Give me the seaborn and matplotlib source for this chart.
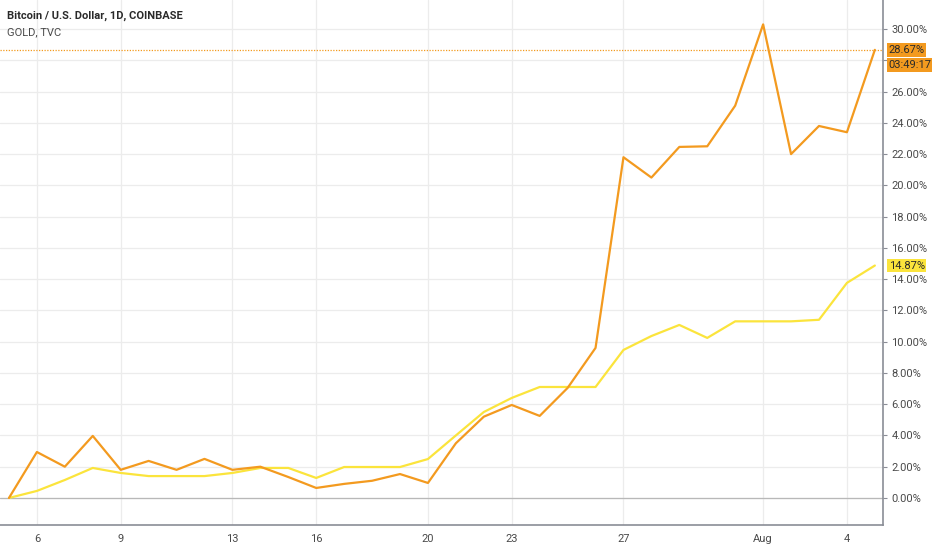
import pandas as pd
import numpy as np
import matplotlib.pyplot as plt
import seaborn as sns

# daily % change since Jul 5
dates = pd.date_range("2020-07-05", "2020-08-05", freq="D")
btc_pct = [0.0, 2.94, 2.0, 3.97, 1.8, 2.37, 1.8, 2.5, 1.8, 2.0, 1.34, 0.64,
           0.9, 1.1, 1.53, 0.96, 3.5, 5.2, 5.95, 5.25, 7.04, 9.6, 21.8, 20.5,
           22.46, 22.5, 25.1, 30.3, 22.0, 23.8, 23.4, 28.67]
gold_pct = [0.0, 0.45, 1.15, 1.92, 1.6, 1.4, 1.4, 1.4, 1.6, 1.92, 1.92, 1.28,
            1.98, 1.98, 1.98, 2.49, 4.0, 5.5, 6.4, 7.1, 7.1, 7.1, 9.47, 10.36,
            11.07, 10.24, 11.3, 11.3, 11.3, 11.4, 13.76, 14.87]
y_ticks = list(range(0, 31, 2))
x_tick_days = ["2020-07-06", "2020-07-09", "2020-07-13", "2020-07-16", "2020-07-20",
               "2020-07-23", "2020-07-27", "2020-08-01", "2020-08-04"]
x_tick_labels = ["6", "9", "13", "16", "20", "23", "27", "Aug", "4"]
countdown = "03:49:17"

BTC_COLOR = "#f39a1f"
GOLD_COLOR = "#fbe43c"
TEXT = "#4a4a4a"
AXIS = "#8a8d96"
GRID = "#ececec"

df = pd.DataFrame({"date": dates, "BTC": btc_pct, "GOLD": gold_pct})

sns.set_theme(style="white")
plt.rcParams['font.family'] = ['Roboto', 'DejaVu Sans']

fig = plt.figure(figsize=(9.32, 5.5), dpi=100)
ax = fig.add_axes([0, 25 / 550, 883 / 932, 525 / 550])

# grid
for v in y_ticks:
    ax.axhline(v, color=GRID, lw=0.9, zorder=0)
for d in x_tick_days:
    ax.axvline(pd.Timestamp(d), color=GRID, lw=0.9, zorder=0)
ax.axhline(0, color="#b8b8b8", lw=0.9, zorder=1)

sns.lineplot(data=df, x="date", y="GOLD", color=GOLD_COLOR, lw=1.6, ax=ax, zorder=3)
sns.lineplot(data=df, x="date", y="BTC", color=BTC_COLOR, lw=1.6, ax=ax, zorder=4)

# last price dotted line
ax.axhline(btc_pct[-1], color=BTC_COLOR, lw=0.9, ls=(0, (1, 1.2)), zorder=2)

ax.set_xlim(dates[0] - pd.Timedelta(hours=7.7), dates[-1] + pd.Timedelta(hours=7))
ax.set_ylim(-1.73, 31.86)

# the 28% label sits under the price/countdown boxes, so it is not shown
ax.yaxis.tick_right()
ax.set_yticks(y_ticks)
ax.set_yticklabels(["" if v == 28 else f"{v:.2f}%" for v in y_ticks])
ax.set_xticks([pd.Timestamp(d) for d in x_tick_days])
ax.set_xticklabels(x_tick_labels)
ax.tick_params(axis="both", colors=TEXT, labelsize=8, length=3, width=0.8)
ax.tick_params(axis="x", pad=3.5)
ax.tick_params(axis="y", pad=3)
ax.tick_params(axis="both", color=AXIS)
ax.set_xlabel("")
ax.set_ylabel("")

for s in ["left", "top"]:
    ax.spines[s].set_visible(False)
for s in ["right", "bottom"]:
    ax.spines[s].set_color(AXIS)
    ax.spines[s].set_linewidth(1.2)

# price labels on the right scale
bbox_kw = dict(boxstyle="square,pad=0.15", ec="none")
ax.annotate(f"{btc_pct[-1]:.2f}%", xy=(1, btc_pct[-1]), xycoords=("axes fraction", "data"),
            xytext=(4, 0), textcoords="offset points", va="center", ha="left",
            fontsize=8, color="#2a2a2a", bbox=dict(fc=BTC_COLOR, **bbox_kw), zorder=10,
            annotation_clip=False)
ax.annotate(countdown, xy=(1, btc_pct[-1]), xycoords=("axes fraction", "data"),
            xytext=(4, -11), textcoords="offset points", va="center", ha="left",
            fontsize=8, color="#2a2a2a", bbox=dict(fc=BTC_COLOR, **bbox_kw), zorder=10,
            annotation_clip=False)
ax.annotate(f"{gold_pct[-1]:.2f}%", xy=(1, gold_pct[-1]), xycoords=("axes fraction", "data"),
            xytext=(4, 0), textcoords="offset points", va="center", ha="left",
            fontsize=8, color="#2a2a2a", bbox=dict(fc=GOLD_COLOR, **bbox_kw), zorder=10,
            annotation_clip=False)

# legend text top-left
fig.text(7 / 932, 1 - 16 / 550, "Bitcoin / U.S. Dollar, 1D, COINBASE", fontsize=8,
         color="#2a2a2a", fontweight="bold", va="center", ha="left")
fig.text(7 / 932, 1 - 32 / 550, "GOLD, TVC", fontsize=8, color=TEXT, va="center", ha="left")

fig.savefig("out.png", dpi=100, facecolor="white")
